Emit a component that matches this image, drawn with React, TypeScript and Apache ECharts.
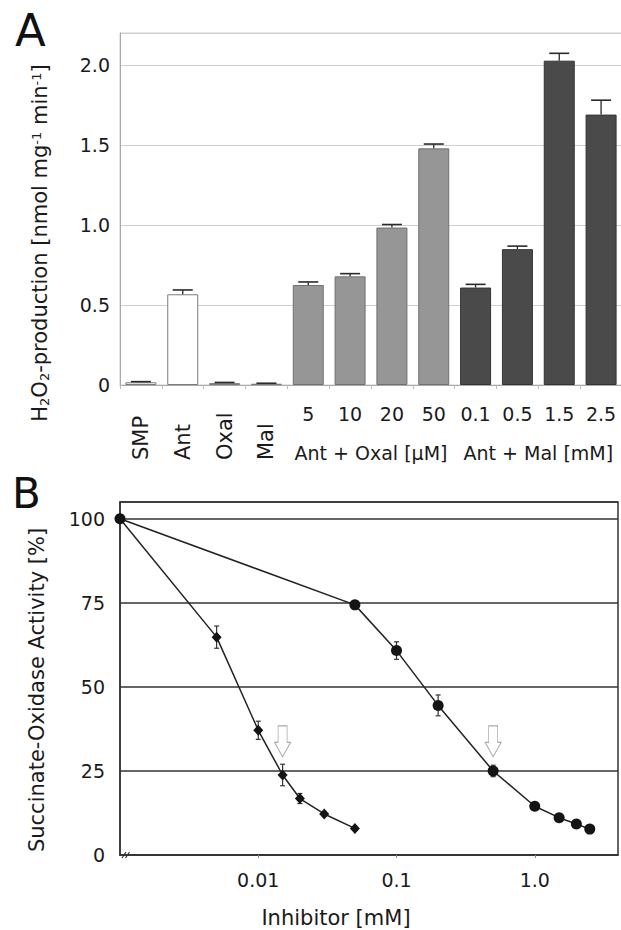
import React, { useEffect, useRef } from 'react';
import * as echarts from 'echarts';

// ---------- Panel A data ----------
const barCategories = ['SMP', 'Ant', 'Oxal', 'Mal', '5', '10', '20', '50', '0.1', '0.5', '1.5', '2.5'];
const barValues = [0.017, 0.567, 0.012, 0.008, 0.625, 0.679, 0.984, 1.479, 0.609, 0.849, 2.027, 1.69];
const barErrors = [0.004, 0.027, 0.004, 0.003, 0.019, 0.017, 0.019, 0.027, 0.02, 0.019, 0.046, 0.09];
const barGroup = ['ctrl', 'ctrl', 'ctrl', 'ctrl', 'oxal', 'oxal', 'oxal', 'oxal', 'mal', 'mal', 'mal', 'mal'];
const groupLabels = ['', '', '', 'Ant + Oxal [µM]', '', 'Ant + Mal [mM]', ''];
const yTicksA = [0, 0.5, 1.0, 1.5, 2.0];

// ---------- Panel B data ----------
const oxalConc = [0.001, 0.005, 0.01, 0.015, 0.02, 0.03, 0.05];
const oxalActivity = [100, 64.8, 37.1, 23.8, 16.8, 12.2, 7.9];
const oxalError = [0, 3.3, 2.7, 3.2, 1.5, 0.6, 0];
const malConc = [0.001, 0.05, 0.1, 0.2, 0.5, 1.0, 1.5, 2.0, 2.5];
const malActivity = [100, 74.4, 60.8, 44.5, 25.0, 14.5, 11.1, 9.2, 7.7];
const malError = [0, 0.6, 2.6, 3.1, 1.7, 0, 0, 0, 0];
const arrowConc = [0.015, 0.5];
const xTicksB = [0.01, 0.1, 1];
const yTicksB = [0, 25, 50, 75, 100];

const FONT = '"DejaVu Sans", "Liberation Sans", sans-serif';
const TXT = '#1a1a1a';

const groupStyle: Record<string, any> = {
  ctrl: { color: '#ffffff', borderColor: '#7a7a7a', borderWidth: 1 },
  oxal: { color: '#969696', borderColor: '#707070', borderWidth: 1 },
  mal: { color: '#4a4a4a', borderColor: '#333333', borderWidth: 1 },
};

const arrowPath = 'path://M3.5,0 L12.5,0 L12.5,16.5 L16,16.5 L8,31 L0,16.5 L3.5,16.5 Z';
const arrowLevel = 33.8;

function isTick(v: number, ticks: number[]) {
  return ticks.some((t) => Math.abs(v - t) < 1e-9 * Math.max(1, Math.abs(t)) || (t > 0 && v > 0 && Math.abs(Math.log10(v) - Math.log10(t)) < 1e-6));
}

function buildOption(): any {
  const errA = barCategories.map((c, i) => [i, barValues[i], barErrors[i]]);
  const errB = [
    ...oxalConc.map((c, i) => [c, oxalActivity[i], oxalError[i]]),
    ...malConc.map((c, i) => [c, malActivity[i], malError[i]]),
  ].filter((d) => d[2] > 0);

  return {
    animation: false,
    backgroundColor: '#ffffff',
    textStyle: { fontFamily: FONT },
    grid: [
      {
        left: 120, top: 33, width: 502, height: 352,
        show: true, borderColor: '#cccccc', borderWidth: 1, backgroundColor: 'transparent',
        containLabel: false, outerBoundsMode: 'none',
      },
      {
        left: 120, top: 502, right: 3, height: 353,
        show: true, borderColor: '#333333', borderWidth: 1.5, backgroundColor: 'transparent',
        containLabel: false, outerBoundsMode: 'none',
      },
    ],
    xAxis: [
      {
        type: 'category', gridIndex: 0, position: 'bottom', data: barCategories,
        axisLine: { show: true, lineStyle: { color: '#aaaaaa', width: 1 } },
        axisTick: { show: true, length: 4, lineStyle: { color: '#bbbbbb' } },
        splitLine: { show: false },
        axisLabel: {
          interval: 0, rotate: 90, align: 'left', verticalAlign: 'middle', margin: 75,
          fontSize: 21, fontFamily: FONT, color: TXT,
          formatter: (v: string, i: number) => (barGroup[i] === 'ctrl' ? v : ''),
        },
      },
      {
        type: 'category', gridIndex: 0, position: 'bottom', data: barCategories,
        axisLine: { show: false }, axisTick: { show: false }, splitLine: { show: false },
        axisLabel: {
          interval: 0, margin: 19, fontSize: 19, fontFamily: FONT, color: TXT,
          formatter: (v: string, i: number) => (barGroup[i] === 'ctrl' ? '' : v),
        },
      },
      {
        type: 'category', gridIndex: 0, position: 'bottom', data: groupLabels, boundaryGap: false,
        axisLine: { show: false }, axisTick: { show: false }, splitLine: { show: false },
        axisLabel: { interval: 0, margin: 58, fontSize: 19, fontFamily: FONT, color: TXT },
      },
      {
        type: 'log', gridIndex: 1, position: 'bottom', min: 0.001, max: 4, logBase: 10,
        axisLine: { show: true, lineStyle: { color: '#333333', width: 1.5 } },
        axisTick: { show: true, length: 3, lineStyle: { color: '#888888' }, customValues: xTicksB },
        splitLine: { show: false },
        minorTick: { show: false }, minorSplitLine: { show: false },
        axisLabel: {
          margin: 15, fontSize: 19, fontFamily: FONT, color: TXT,
          customValues: xTicksB,
          formatter: (v: number) => (isTick(v, xTicksB) ? (Math.abs(v - 1) < 1e-6 ? '1.0' : String(+v.toPrecision(3))) : ''),
        },
      },
    ],
    yAxis: [
      {
        type: 'value', gridIndex: 0, min: 0, max: 2.2, interval: 0.5,
        axisLine: { show: true, lineStyle: { color: '#aaaaaa', width: 1 } },
        axisTick: { show: false },
        splitLine: { show: true, lineStyle: { color: '#cfcfcf', width: 1 } },
        axisLabel: {
          margin: 10, fontSize: 19, fontFamily: FONT, color: TXT,
          formatter: (v: number) => (isTick(v, yTicksA) ? (v === 0 ? '0' : v.toFixed(1)) : ''),
        },
      },
      {
        type: 'value', gridIndex: 1, min: 0, max: 105, interval: 25,
        axisLine: { show: true, lineStyle: { color: '#333333', width: 1.5 } },
        axisTick: { show: false },
        splitLine: { show: true, lineStyle: { color: '#333333', width: 1.5 } },
        axisLabel: {
          margin: 15, fontSize: 19, fontFamily: FONT, color: TXT,
          formatter: (v: number) => (isTick(v, yTicksB) ? String(v) : ''),
        },
      },
    ],
    series: [
      {
        type: 'bar', xAxisIndex: 0, yAxisIndex: 0, barWidth: 31, z: 2,
        data: barValues.map((v, i) => ({ value: v, itemStyle: groupStyle[barGroup[i]] })),
      },
      {
        type: 'custom', xAxisIndex: 0, yAxisIndex: 0, z: 4,
        data: errA,
        encode: { x: 0, y: 1 },
        renderItem: (params: any, api: any) => {
          const x = api.value(0);
          const y = api.value(1);
          const e = api.value(2);
          const top = api.coord([x, y + e]);
          const base = api.coord([x, y]);
          const half = 10;
          return {
            type: 'group',
            children: [
              { type: 'line', shape: { x1: top[0], y1: top[1], x2: base[0], y2: base[1] }, style: { stroke: '#2a2a2a', lineWidth: 1.3 } },
              { type: 'line', shape: { x1: top[0] - half, y1: top[1], x2: top[0] + half, y2: top[1] }, style: { stroke: '#2a2a2a', lineWidth: 1.6 } },
            ],
          };
        },
      },
      {
        type: 'custom', xAxisIndex: 3, yAxisIndex: 1, z: 4,
        data: errB,
        encode: { x: 0, y: 1 },
        renderItem: (params: any, api: any) => {
          const x = api.value(0);
          const y = api.value(1);
          const e = api.value(2);
          const hi = api.coord([x, y + e]);
          const lo = api.coord([x, y - e]);
          const half = 2.5;
          const st = { stroke: '#333333', lineWidth: 1.2 };
          return {
            type: 'group',
            children: [
              { type: 'line', shape: { x1: hi[0], y1: hi[1], x2: lo[0], y2: lo[1] }, style: st },
              { type: 'line', shape: { x1: hi[0] - half, y1: hi[1], x2: hi[0] + half, y2: hi[1] }, style: st },
              { type: 'line', shape: { x1: lo[0] - half, y1: lo[1], x2: lo[0] + half, y2: lo[1] }, style: st },
            ],
          };
        },
      },
      {
        type: 'line', name: 'Oxal', xAxisIndex: 3, yAxisIndex: 1, z: 5,
        data: oxalConc.map((c, i) => [c, oxalActivity[i]]),
        symbol: 'diamond', symbolSize: [10, 11], showSymbol: true,
        lineStyle: { color: '#222222', width: 1.5 },
        itemStyle: { color: '#141414' },
        markPoint: {
          symbol: arrowPath, symbolSize: [16, 31], symbolKeepAspect: false,
          label: { show: false },
          itemStyle: { color: '#ffffff', borderColor: '#a8a8a8', borderWidth: 1 },
          data: [{ coord: [arrowConc[0], arrowLevel] }],
        },
      },
      {
        type: 'line', name: 'Mal', xAxisIndex: 3, yAxisIndex: 1, z: 6,
        data: malConc.map((c, i) => [c, malActivity[i]]),
        symbol: 'circle', symbolSize: 11, showSymbol: true,
        lineStyle: { color: '#222222', width: 1.5 },
        itemStyle: { color: '#141414' },
        markPoint: {
          symbol: arrowPath, symbolSize: [16, 31], symbolKeepAspect: false,
          label: { show: false },
          itemStyle: { color: '#ffffff', borderColor: '#a8a8a8', borderWidth: 1 },
          data: [{ coord: [arrowConc[1], arrowLevel] }],
        },
      },
    ],
    graphic: [
      { type: 'text', left: 15, top: 8, style: { text: 'A', fontSize: 45, fontFamily: FONT, fill: '#111111' } },
      { type: 'text', left: 12, top: 472, style: { text: 'B', fontSize: 42, fontFamily: FONT, fill: '#111111' } },
      {
        type: 'text', x: 40, y: 243, rotation: Math.PI / 2,
        style: {
          text: 'H{sub|2}O{sub|2}-production [nmol mg{sup|-1} min{sup|-1}]',
          fontSize: 21, fontFamily: FONT, fill: TXT, align: 'center', verticalAlign: 'middle',
          rich: {
            sub: { fontSize: 13, fontFamily: FONT, fill: TXT, verticalAlign: 'bottom' },
            sup: { fontSize: 13, fontFamily: FONT, fill: TXT, verticalAlign: 'top' },
          },
        },
      },
      {
        type: 'text', x: 37, y: 690, rotation: Math.PI / 2,
        style: { text: 'Succinate-Oxidase Activity [%]', fontSize: 21, fontFamily: FONT, fill: TXT, align: 'center', verticalAlign: 'middle' },
      },
      {
        type: 'text', x: 336, y: 918,
        style: { text: 'Inhibitor [mM]', fontSize: 21, fontFamily: FONT, fill: TXT, align: 'center', verticalAlign: 'middle' },
      },
      {
        type: 'group', z: 100,
        children: [
          { type: 'line', shape: { x1: 122, y1: 858, x2: 126, y2: 852 }, style: { stroke: '#333333', lineWidth: 1.2 } },
          { type: 'line', shape: { x1: 125.5, y1: 858, x2: 129.5, y2: 852 }, style: { stroke: '#333333', lineWidth: 1.2 } },
        ],
      },
    ],
  };
}

export default function App() {
  const ref = useRef<HTMLDivElement>(null);
  useEffect(() => {
    document.body.style.margin = '0';
    const chart = echarts.init(ref.current as HTMLDivElement, null, { renderer: 'svg' });
    chart.setOption(buildOption());
    return () => {
      chart.dispose();
    };
  }, []);
  return <div ref={ref} style={{ width: 621, height: 930, position: 'absolute', left: 0, top: 0 }} />;
}
